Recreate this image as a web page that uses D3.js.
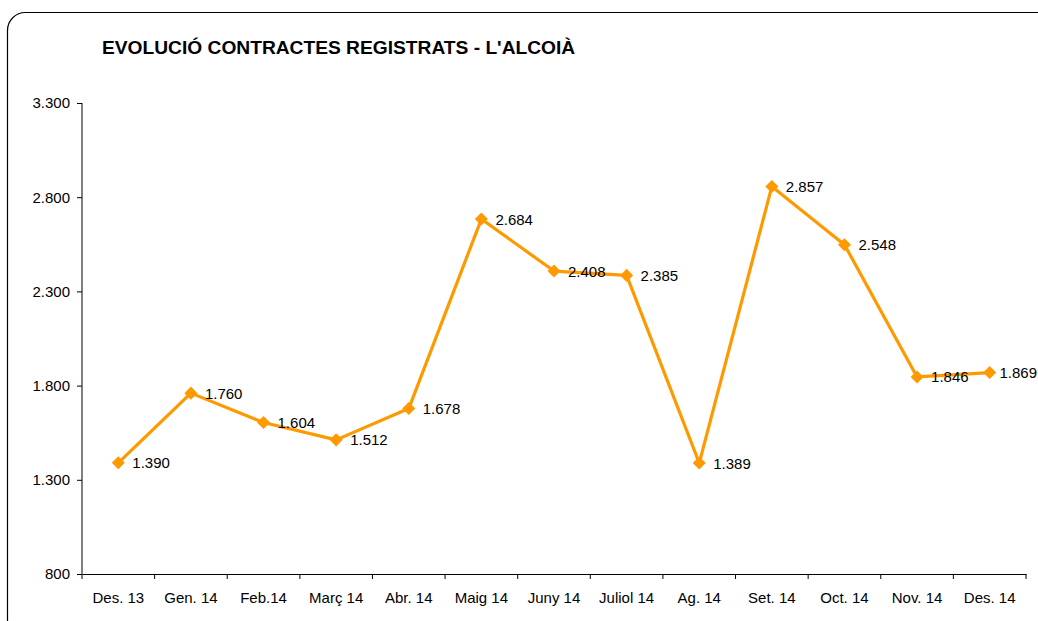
<!DOCTYPE html>
<html><head><meta charset="utf-8">
<script src="https://cdn.jsdelivr.net/npm/d3@7"></script>
<style>body{margin:0;background:#fff}svg{display:block}</style>
</head><body><svg id="c" width="1038" height="621"></svg>
<script>
const categories = ["Des. 13","Gen. 14","Feb.14","Març 14","Abr. 14","Maig 14","Juny 14","Juliol 14","Ag. 14","Set. 14","Oct. 14","Nov. 14","Des. 14"];
const values = [1390,1760,1604,1512,1678,2684,2408,2385,1389,2857,2548,1846,1869];
const yTicks = [800,1300,1800,2300,2800,3300];
const title = "EVOLUCIÓ CONTRACTES REGISTRATS - L'ALCOIÀ";

const svg = d3.select("#c");
const font = "Liberation Sans, Arial, sans-serif";
svg.append("rect").attr("x",7.5).attr("y",12.5).attr("width",1050).attr("height",625)
  .attr("rx",18).attr("fill","none").attr("stroke","#000").attr("stroke-width",1.2);

svg.append("text").attr("x",102).attr("y",54).text(title)
  .attr("font-family",font).attr("font-weight","bold").attr("font-size",19.2).attr("fill","#000");

const x = d3.scaleBand().domain(categories).range([82,1026]);
const y = d3.scaleLinear().domain([800,3300]).range([574,103]);

const xAx = svg.append("g").attr("transform","translate(0,574)")
  .call(d3.axisBottom(x).tickSize(0).tickPadding(0));
xAx.select(".domain").attr("stroke","#000");
xAx.selectAll(".tick").remove();
const edges = categories.map((c)=>x(c)).concat([x.range()[1]]);
xAx.selectAll("line.t").data(edges).enter().append("line")
  .attr("x1",d=>d).attr("x2",d=>d).attr("y1",0).attr("y2",5).attr("stroke","#000");
svg.selectAll("text.cat").data(categories).enter().append("text")
  .attr("x",d=>x(d)+x.bandwidth()/2).attr("y",603).attr("text-anchor","middle")
  .attr("font-family",font).attr("font-size",15).attr("fill","#000").text(d=>d);

const yAx = svg.append("g").attr("transform","translate(82,0)")
  .call(d3.axisLeft(y).tickValues(yTicks).tickSize(5).tickPadding(7)
    .tickFormat(d=>d3.format(",")(d).replace(/,/g,".")));
yAx.select(".domain").attr("stroke","#000").attr("d","M0,"+y(3300)+"V"+y(800));
yAx.selectAll("line").attr("stroke","#000");
yAx.selectAll("text").attr("font-family",font).attr("font-size",15).attr("fill","#000");

const cx = (d,i)=>x(categories[i])+x.bandwidth()/2;
const line = d3.line().x((d,i)=>cx(d,i)).y(d=>y(d));
svg.append("path").datum(values).attr("d",line).attr("fill","none")
  .attr("stroke","#FF9900").attr("stroke-width",3.2).attr("stroke-linejoin","round");
const sym = d3.symbol().type(d3.symbolSquare).size(85);
svg.selectAll("path.m").data(values).enter().append("path")
  .attr("d",sym).attr("fill","#FF9900")
  .attr("transform",(d,i)=>"translate("+cx(d,i)+","+y(d)+") rotate(45)");
svg.selectAll("text.v").data(values).enter().append("text")
  .attr("x",(d,i)=>cx(d,i)+14).attr("y",d=>y(d)+5.5)
  .attr("font-family",font).attr("font-size",15).attr("fill","#000")
  .text(d=>d3.format(",")(d).replace(/,/g,"."))
  .each(function(){
    const w = this.getComputedTextLength();
    const x0 = +this.getAttribute("x");
    if (x0 + w > 1037) this.setAttribute("x", 1037 - w);
  });
</script></body></html>
